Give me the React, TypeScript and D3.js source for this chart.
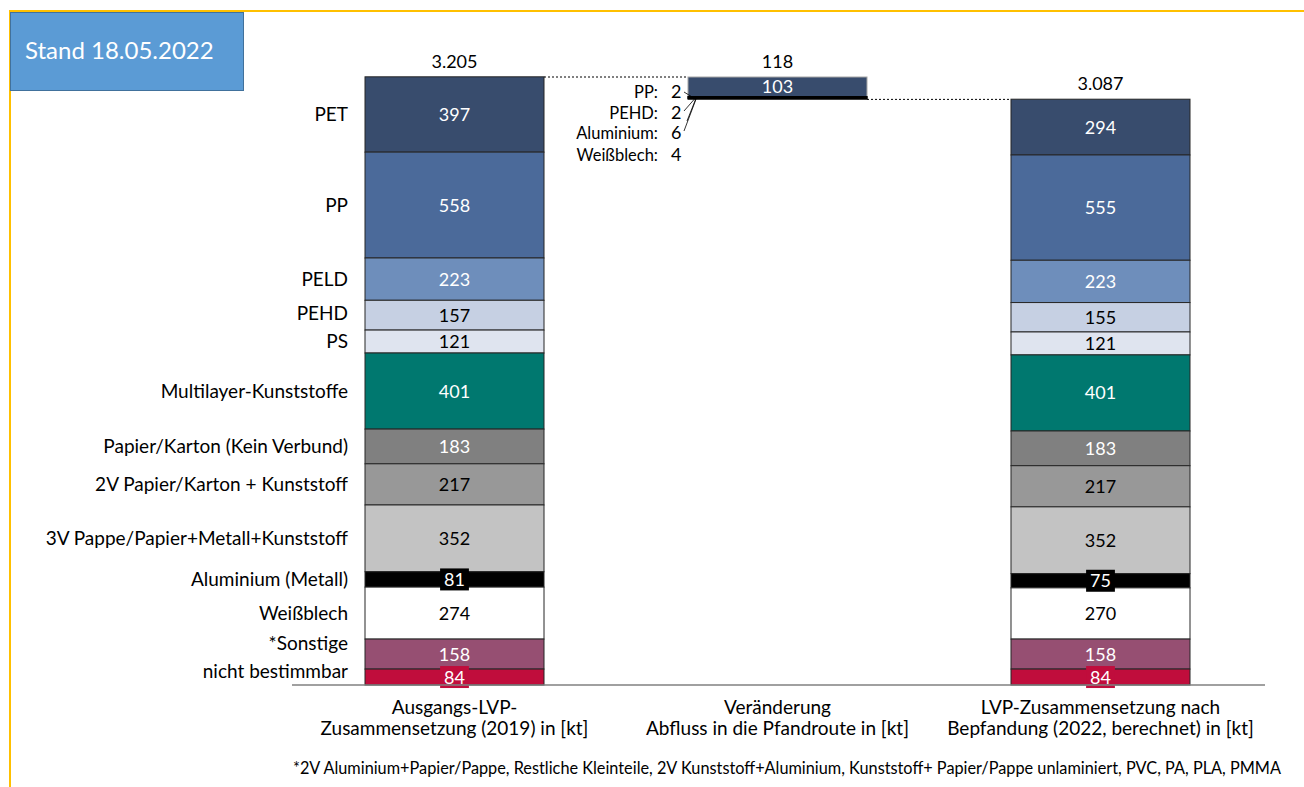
import React from "react";
import * as d3 from "d3";

// Composition of LVP packaging waste, in kt
const categories = [
  "PET",
  "PP",
  "PELD",
  "PEHD",
  "PS",
  "Multilayer-Kunststoffe",
  "Papier/Karton (Kein Verbund)",
  "2V Papier/Karton + Kunststoff",
  "3V Pappe/Papier+Metall+Kunststoff",
  "Aluminium (Metall)",
  "Weißblech",
  "*Sonstige",
  "nicht bestimmbar",
];
const values2019 = [397, 558, 223, 157, 121, 401, 183, 217, 352, 81, 274, 158, 84];
const values2022 = [294, 555, 223, 155, 121, 401, 183, 217, 352, 75, 270, 158, 84];
const colors = [
  "#384c6d", "#4b6a9a", "#6e8ebb", "#c6d0e3", "#dfe4ef", "#00786f", "#808080",
  "#989898", "#c3c3c3", "#000000", "#ffffff", "#964f72", "#c00d3c",
];
const lightText = [true, true, true, false, false, true, true, false, false, true, false, true, true];
const boxedLabel = [false, false, false, false, false, false, false, false, false, true, false, false, true];

// Outflow into the deposit route
const changeCategories = ["PET", "PP", "PEHD", "Aluminium (Metall)", "Weißblech"];
const changeValues = [103, 2, 2, 6, 4];
const changeLabels = ["", "PP:", "PEHD:", "Aluminium:", "Weißblech:"];

const columns = ["2019", "change", "2022"];
const columnTitles = [
  ["Ausgangs-LVP-", "Zusammensetzung (2019) in [kt]"],
  ["Veränderung", "Abfluss in die Pfandroute in [kt]"],
  ["LVP-Zusammensetzung nach", "Bepfandung (2022, berechnet) in [kt]"],
];
const totals = [3205, 118, 3087];

const footnote =
  "*2V Aluminium+Papier/Pappe, Restliche Kleinteile, 2V Kunststoff+Aluminium, Kunststoff+ Papier/Pappe unlaminiert, PVC, PA, PLA, PMMA";
const stampText = "Stand 18.05.2022";

const W = 1304;
const H = 787;
const FONT = "Lato, 'Open Sans', sans-serif";
const baseY = 685;
const LABEL_SIZE = 19;
const NUM_SIZE = 18;

const de = d3.formatLocale({ decimal: ",", thousands: ".", grouping: [3], currency: ["", " €"] });
const fmt = de.format(",d");

export default function App() {
  const y = d3.scaleLinear().domain([0, totals[0]]).range([baseY, 77]);
  const x = d3.scaleBand<string>().domain(columns).range([365, 1190]).paddingInner(0.4458).paddingOuter(0);
  const bw = x.bandwidth();

  const stackUp = (vals: number[]) => {
    const out: { y0: number; y1: number }[] = new Array(vals.length);
    let acc = 0;
    for (let i = vals.length - 1; i >= 0; i--) {
      out[i] = { y0: acc, y1: acc + vals[i] };
      acc += vals[i];
    }
    return out;
  };
  const s2019 = stackUp(values2019);
  const s2022 = stackUp(values2022);

  // floating change bar, stacked downward from the 2019 total
  const changeStack: { y0: number; y1: number }[] = [];
  {
    let top = totals[0];
    changeValues.forEach((v) => {
      changeStack.push({ y0: top - v, y1: top });
      top -= v;
    });
  }

  // category label positions: segment middles, pushed apart from the bottom upward
  const labelY: number[] = s2019.map((s) => y((s.y0 + s.y1) / 2));
  const minGap = 28;
  labelY[labelY.length - 1] = Math.min(labelY[labelY.length - 1], baseY - 14);
  for (let i = labelY.length - 2; i >= 0; i--) {
    if (labelY[i + 1] - labelY[i] < minGap) labelY[i] = labelY[i + 1] - minGap;
  }

  const renderStack = (col: string, vals: number[], stack: { y0: number; y1: number }[]) => {
    const x0 = x(col)!;
    const cx = x0 + bw / 2;
    return (
      <g>
        {vals.map((v, i) => (
          <rect
            key={"r" + i}
            x={x0}
            y={y(stack[i].y1)}
            width={bw}
            height={y(stack[i].y0) - y(stack[i].y1)}
            fill={colors[i]}
            stroke="#262626"
            strokeWidth={1}
          />
        ))}
        {vals.map((v, i) => {
          const cy = y((stack[i].y0 + stack[i].y1) / 2);
          const label = fmt(v);
          const tw = label.length * 10.4 + 8;
          return (
            <g key={"l" + i}>
              {boxedLabel[i] && (
                <rect x={cx - tw / 2} y={cy - 11} width={tw} height={22} fill={colors[i]} />
              )}
              <text
                x={cx}
                y={cy}
                dy="0.36em"
                textAnchor="middle"
                fontSize={NUM_SIZE}
                fill={lightText[i] ? "#ffffff" : "#000000"}
              >
                {label}
              </text>
            </g>
          );
        })}
      </g>
    );
  };

  const xc = x("change")!;
  const changeIdx = changeCategories.map((c) => categories.indexOf(c));
  const annY = [0, 92, 113, 133, 155];
  const leaderEndX = xc + 8;

  return (
    <svg width={W} height={H} style={{ position: "absolute", left: 0, top: 0 }} fontFamily={FONT}>
      <rect x={0} y={0} width={W} height={H} fill="#ffffff" />
      {/* frame */}
      <line x1={10} y1={11} x2={W} y2={11} stroke="#ffc000" strokeWidth={2} />
      <line x1={10} y1={10} x2={10} y2={H} stroke="#ffc000" strokeWidth={2} />

      {/* date stamp */}
      <rect x={10.5} y={12.5} width={233} height={78} fill="#5b9bd5" stroke="#41719c" strokeWidth={1} />
      <text x={25} y={50} dy="0.36em" fontSize={24} fill="#ffffff">
        {stampText}
      </text>

      {renderStack("2019", values2019, s2019)}
      {renderStack("2022", values2022, s2022)}

      {/* change bar */}
      <g>
        {changeValues.map((v, i) => {
          const ci = changeIdx[i];
          return (
            <rect
              key={i}
              x={xc}
              y={y(changeStack[i].y1)}
              width={bw}
              height={y(changeStack[i].y0) - y(changeStack[i].y1)}
              fill={i === 0 ? colors[ci] : "#000000"}
              stroke={i === 0 ? "#a6a6a6" : "#000000"}
              strokeWidth={1}
            />
          );
        })}
        <text
          x={xc + bw / 2}
          y={y((changeStack[0].y0 + changeStack[0].y1) / 2)}
          dy="0.36em"
          textAnchor="middle"
          fontSize={NUM_SIZE}
          fill="#ffffff"
        >
          {fmt(changeValues[0])}
        </text>
        {changeValues.map((v, i) =>
          i === 0 ? null : (
            <g key={"a" + i}>
              <text x={658} y={annY[i]} dy="0.36em" textAnchor="end" fontSize={16.5} fill="#000">
                {changeLabels[i]}
              </text>
              <text x={671} y={annY[i]} dy="0.36em" fontSize={18} fill="#000">
                {fmt(v)}
              </text>
            </g>
          )
        )}
        {/* leader lines */}
        <line x1={684} y1={annY[1]} x2={xc + 5} y2={y(changeStack[1].y1) + 1} stroke="#000" strokeWidth={0.8} />
        <line x1={684} y1={annY[2] - 2} x2={leaderEndX} y2={y(changeStack[2].y0)} stroke="#000" strokeWidth={0.8} />
        <line x1={687} y1={annY[2] + 8} x2={leaderEndX} y2={y(changeStack[3].y0)} stroke="#000" strokeWidth={0.8} />
        <line x1={684} y1={annY[3] - 2} x2={leaderEndX} y2={y(changeStack[4].y0)} stroke="#000" strokeWidth={0.8} />
      </g>

      {/* connectors */}
      <line
        x1={x("2019")! + bw}
        y1={y(totals[0])}
        x2={xc}
        y2={y(totals[0])}
        stroke="#000"
        strokeWidth={1}
        strokeDasharray="2,2"
      />
      <line
        x1={xc + bw}
        y1={y(totals[2])}
        x2={x("2022")!}
        y2={y(totals[2])}
        stroke="#000"
        strokeWidth={1}
        strokeDasharray="2,2"
      />

      {/* totals */}
      <text x={x("2019")! + bw / 2} y={y(totals[0]) - 9} textAnchor="middle" fontSize={NUM_SIZE} fill="#000">
        {fmt(totals[0])}
      </text>
      <text x={xc + bw / 2} y={y(totals[0]) - 9} textAnchor="middle" fontSize={NUM_SIZE} fill="#000">
        {fmt(totals[1])}
      </text>
      <text x={x("2022")! + bw / 2} y={y(totals[2]) - 9} textAnchor="middle" fontSize={NUM_SIZE} fill="#000">
        {fmt(totals[2])}
      </text>

      {/* category labels */}
      {categories.map((c, i) => (
        <text key={c} x={348} y={labelY[i]} dy="0.36em" textAnchor="end" fontSize={LABEL_SIZE} fill="#000">
          {c}
        </text>
      ))}

      {/* axis */}
      <line x1={292} y1={baseY} x2={1265} y2={baseY} stroke="#808080" strokeWidth={1.5} />
      {columns.map((col, i) => (
        <text key={col} x={x(col)! + bw / 2} textAnchor="middle" fontSize={LABEL_SIZE} fill="#000">
          <tspan x={x(col)! + bw / 2} y={707} dy="0.36em">
            {columnTitles[i][0]}
          </tspan>
          <tspan x={x(col)! + bw / 2} y={728} dy="0.36em">
            {columnTitles[i][1]}
          </tspan>
        </text>
      ))}

      <text x={293} y={768} dy="0.36em" fontSize={16.3} fill="#000">
        {footnote}
      </text>
    </svg>
  );
}
